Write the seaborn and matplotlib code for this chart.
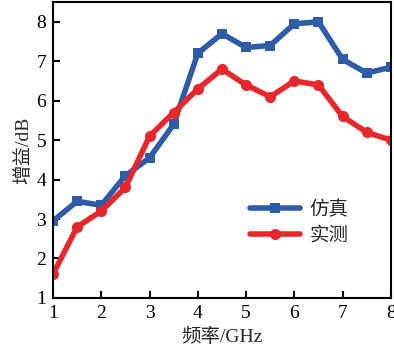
import numpy as np
import seaborn as sns
import matplotlib.pyplot as plt

# 频率与增益数据
freq = [1, 1.5, 2, 2.5, 3, 3.5, 4, 4.5, 5, 5.5, 6, 6.5, 7, 7.5, 8]
sim_gain = [2.95, 3.45, 3.35, 4.1, 4.55, 5.4, 7.2, 7.7, 7.35, 7.4, 7.95, 8.0, 7.05, 6.7, 6.85]
meas_gain = [1.6, 2.8, 3.2, 3.8, 5.1, 5.7, 6.3, 6.8, 6.4, 6.1, 6.5, 6.4, 5.6, 5.2, 5.0]
labels = ["仿真", "实测"]

sns.set_style("ticks")
plt.rcParams['font.family'] = ['Liberation Serif', 'Noto Sans CJK SC']

fig = plt.figure(figsize=(3.94, 3.53), dpi=100)
ax = fig.add_axes([0.1345, 0.156, 0.8575, 0.838])

sns.lineplot(x=freq, y=sim_gain, ax=ax, color="#2f5ca8", lw=4, marker="s",
             markersize=7.5, markeredgewidth=0, label=labels[0])
sns.lineplot(x=freq, y=meas_gain, ax=ax, color="#e8272c", lw=4, marker="o",
             markersize=8, markeredgewidth=0, label=labels[1])

ax.set_xlim(1, 8)
ax.set_ylim(1, 8.5)
ax.set_xticks(range(1, 9))
ax.set_yticks(range(1, 9))
ax.tick_params(direction="in", length=5, width=1.5, labelsize=14, colors="black", pad=5)
for s in ax.spines.values():
    s.set_linewidth(1.5)
    s.set_color("black")

ax.set_xlabel("频率/GHz", fontsize=14, labelpad=4)
ax.set_ylabel("增益/dB", fontsize=14, labelpad=3)
ax.legend(loc="center left", bbox_to_anchor=(0.53, 0.255), frameon=False,
          fontsize=14, handlelength=2.6, handletextpad=0.5, labelspacing=0.4)

plt.savefig("out.png", dpi=100)
